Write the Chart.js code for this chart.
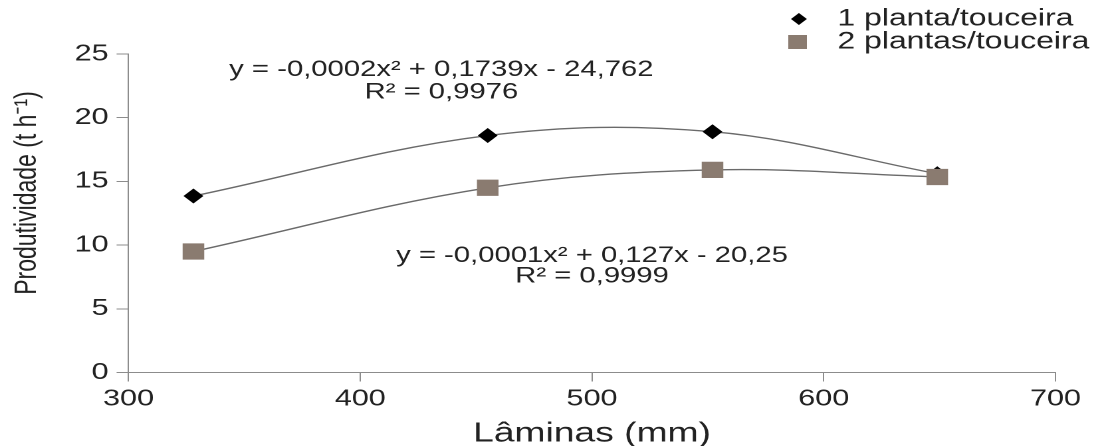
<!DOCTYPE html>
<html>

<head>
  <meta charset="utf-8">
  <title>Produtividade x Lâminas</title>
  <style>
    html, body { margin: 0; padding: 0; background: #fff; overflow: hidden; }
    /* o gráfico original está esticado na horizontal */
    #caixa { position: absolute; left: 0; top: 0; width: 823px; height: 446px; transform: scaleX(1.3293); transform-origin: 0 0; }
  </style>
</head>

<body>
  <div id="caixa">
    <canvas id="mychart"></canvas>
  </div>

  <script src="https://cdn.jsdelivr.net/npm/chart.js"></script>

  <script>
    // Dados
    const laminas = [328, 455, 552, 649];
    const planta1 = [13.85, 18.6, 18.9, 15.6];
    const planta2 = [9.5, 14.5, 15.9, 15.35];
    const nomes = ['1 planta/touceira', '2 plantas/touceira'];
    const equacao1 = ['y = -0,0002x² + 0,1739x - 24,762', 'R² = 0,9976'];
    const equacao2 = ['y = -0,0001x² + 0,127x - 20,25', 'R² = 0,9999'];
    const tituloY = 'Produtividade (t h⁻¹)';

    const fonte = "'Liberation Sans', Arial, sans-serif";
    const corQuadrado = '#8a7b70';

    function pontos(ys) {
      return laminas.map((x, i) => ({ x: x, y: ys[i] }));
    }

    // texto das equações, título do eixo y e legenda desenhados por cima
    const textos = {
      id: 'textos',
      afterDraw(chart) {
        const ctx = chart.ctx;
        const sx = chart.scales.x, sy = chart.scales.y;
        ctx.save();
        ctx.fillStyle = '#222';
        ctx.textAlign = 'center';
        ctx.textBaseline = 'middle';
        ctx.font = '22px ' + fonte;
        ctx.fillText(equacao1[0], sx.getPixelForValue(435), sy.getPixelForValue(23.75));
        ctx.fillText(equacao1[1], sx.getPixelForValue(435), sy.getPixelForValue(22.0));
        ctx.fillText(equacao2[0], sx.getPixelForValue(500), sy.getPixelForValue(9.15));
        ctx.fillText(equacao2[1], sx.getPixelForValue(500), sy.getPixelForValue(7.55));

        // título do eixo y
        ctx.save();
        ctx.translate(20.5, 193);
        ctx.rotate(-Math.PI / 2);
        ctx.font = '23px ' + fonte;
        ctx.fillText(tituloY, 0, 0);
        ctx.restore();

        // legenda
        ctx.textAlign = 'left';
        ctx.font = '24px ' + fonte;
        ctx.fillText(nomes[0], 630, 19);
        ctx.fillText(nomes[1], 630, 42);
        ctx.fillStyle = '#000';
        ctx.beginPath();
        ctx.moveTo(601, 13); ctx.lineTo(607, 19); ctx.lineTo(601, 25); ctx.lineTo(595, 19);
        ctx.closePath();
        ctx.fill();
        ctx.fillStyle = corQuadrado;
        ctx.fillRect(593, 35, 14, 14);
        ctx.restore();
      }
    };

    const eixo = {
      border: { color: '#8c8c8c', width: 1 },
      ticks: { color: '#222', font: { family: fonte, size: 23 } }
    };

    const ctx = document.getElementById('mychart').getContext('2d');
    new Chart(ctx, {
      type: 'line',
      data: {
        datasets: [{
          label: nomes[0],
          data: pontos(planta1),
          borderColor: '#6a6a6a',
          borderWidth: 1.4,
          tension: 0.36,
          pointStyle: 'rectRot',
          pointRadius: 6.5,
          pointBackgroundColor: '#000',
          pointBorderColor: '#000',
          order: 1
        }, {
          label: nomes[1],
          data: pontos(planta2),
          borderColor: '#6a6a6a',
          borderWidth: 1.4,
          tension: 0.36,
          pointStyle: 'rect',
          pointRadius: 10.5,
          pointBackgroundColor: corQuadrado,
          pointBorderColor: corQuadrado,
          order: 0
        }]
      },
      options: {
        responsive: true,
        maintainAspectRatio: false,
        devicePixelRatio: 2,
        animation: false,
        layout: { padding: { top: 54, right: 29, left: 0, bottom: 0 } },
        plugins: { legend: { display: false }, tooltip: { enabled: false } },
        scales: {
          x: {
            type: 'linear',
            min: 300,
            max: 700,
            border: eixo.border,
            grid: { drawOnChartArea: false, color: '#8c8c8c', tickLength: 9 },
            ticks: { ...eixo.ticks, stepSize: 100, padding: 4, maxRotation: 0 },
            title: { display: true, text: 'Lâminas (mm)', color: '#222', font: { family: fonte, size: 28, lineHeight: 0.8 }, padding: { top: 0, bottom: 1 } },
            afterFit(s) { s.height = 73.5; }
          },
          y: {
            type: 'linear',
            min: 0,
            max: 25,
            border: eixo.border,
            grid: { drawOnChartArea: false, color: '#8c8c8c', tickLength: 9 },
            ticks: { ...eixo.ticks, stepSize: 5, padding: 6 },
            afterFit(s) { s.width = 96.7; }
          }
        }
      },
      plugins: [textos]
    });
  </script>
</body>

</html>
